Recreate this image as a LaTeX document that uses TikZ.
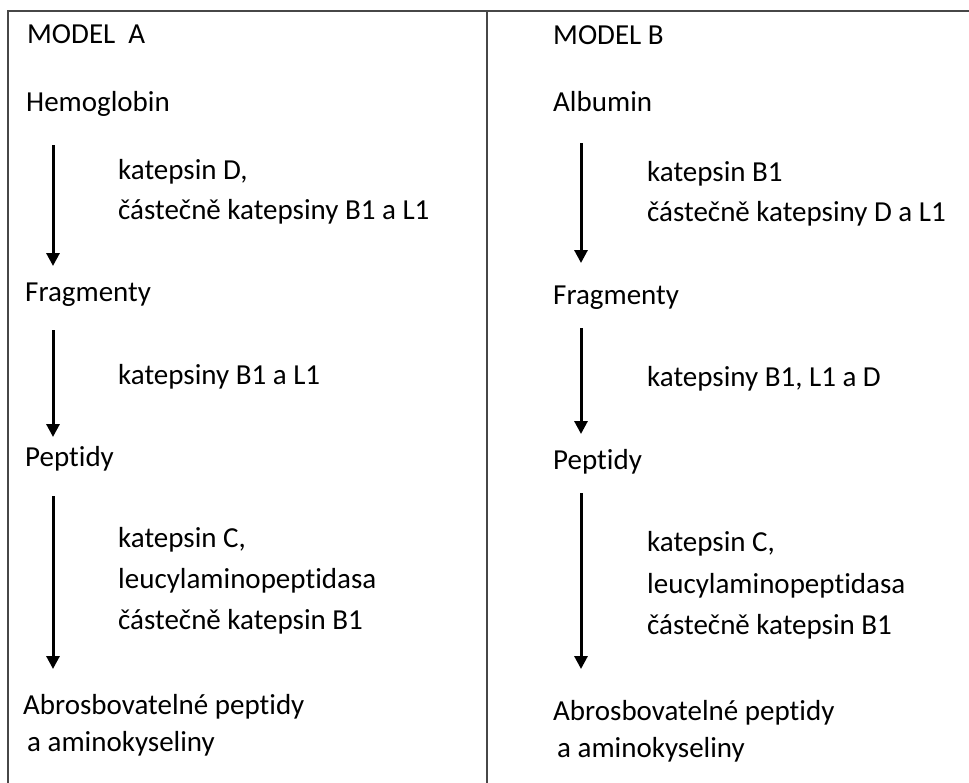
\documentclass[tikz,border=0pt]{standalone}
\usepackage{fontspec}
\setmainfont{Carlito}[Ligatures=NoCommon]
\usetikzlibrary{arrows.meta}
\begin{document}
\begin{tikzpicture}[x=1pt,y=-1pt,
  txt/.style={anchor=base west,inner sep=0pt,font=\fontsize{29}{41}\selectfont},
  frame/.style={line width=2pt,draw=black!72},
  flow/.style={line width=3pt,-{Triangle[width=13pt,length=13pt]}}]
\useasboundingbox (0,0) rectangle (969,782);
% frame
\coordinate (tl) at (8,11);
\coordinate (tr) at (972,11);
\coordinate (bl) at (8,785);
\coordinate (mt) at (487,11);
\coordinate (mb) at (487,785);
\draw[frame] (bl) -- (tl) -- (tr);
\draw[frame] (mt) -- (mb);
% Model A
\node[txt] (ma) at (27,43) {MODEL\ \ A};
\node[txt] (hemo) at (26,111) {Hemoglobin};
\node[txt] (ea1) at (118,179) {katepsin D,};
\node[txt] (ea2) at (118,219) {částečně katepsiny B1 a L1};
\node[txt] (fraga) at (25,301) {Fragmenty};
\node[txt] (eb1) at (118,384) {katepsiny B1 a L1};
\node[txt] (pepa) at (25,466) {Peptidy};
\node[txt] (ec1) at (118,547) {katepsin C,};
\node[txt] (ec2) at (118,588) {leucylaminopeptidasa};
\node[txt] (ec3) at (118,629) {částečně katepsin B1};
\node[txt] (enda1) at (23,714) {Abrosbovatelné peptidy};
\node[txt] (enda2) at (27,751) {a aminokyseliny};
\coordinate (a1s) at (53,145); \coordinate (a1e) at (53,266);
\coordinate (a2s) at (53,330); \coordinate (a2e) at (53,437);
\coordinate (a3s) at (53,496); \coordinate (a3e) at (53,669);
\draw[flow] (a1s) -- (a1e);
\draw[flow] (a2s) -- (a2e);
\draw[flow] (a3s) -- (a3e);
% Model B
\node[txt] (mbm) at (553,44) {MODEL B};
\node[txt] (alb) at (553,111) {Albumin};
\node[txt] (fb1) at (647,181) {katepsin B1};
\node[txt] (fb2) at (647,221) {částečně katepsiny D a L1};
\node[txt] (fragb) at (553,304) {Fragmenty};
\node[txt] (gb1) at (647,386) {katepsiny B1, L1 a D};
\node[txt] (pepb) at (553,469) {Peptidy};
\node[txt] (hb1) at (647,551) {katepsin C,};
\node[txt] (hb2) at (647,593) {leucylaminopeptidasa};
\node[txt] (hb3) at (647,634) {částečně katepsin B1};
\node[txt] (endb1) at (553,720) {Abrosbovatelné peptidy};
\node[txt] (endb2) at (557,757) {a aminokyseliny};
\coordinate (b1s) at (581,143); \coordinate (b1e) at (581,263);
\coordinate (b2s) at (581,328); \coordinate (b2e) at (581,434);
\coordinate (b3s) at (581,493); \coordinate (b3e) at (581,669);
\draw[flow] (b1s) -- (b1e);
\draw[flow] (b2s) -- (b2e);
\draw[flow] (b3s) -- (b3e);
\end{tikzpicture}
\end{document}
